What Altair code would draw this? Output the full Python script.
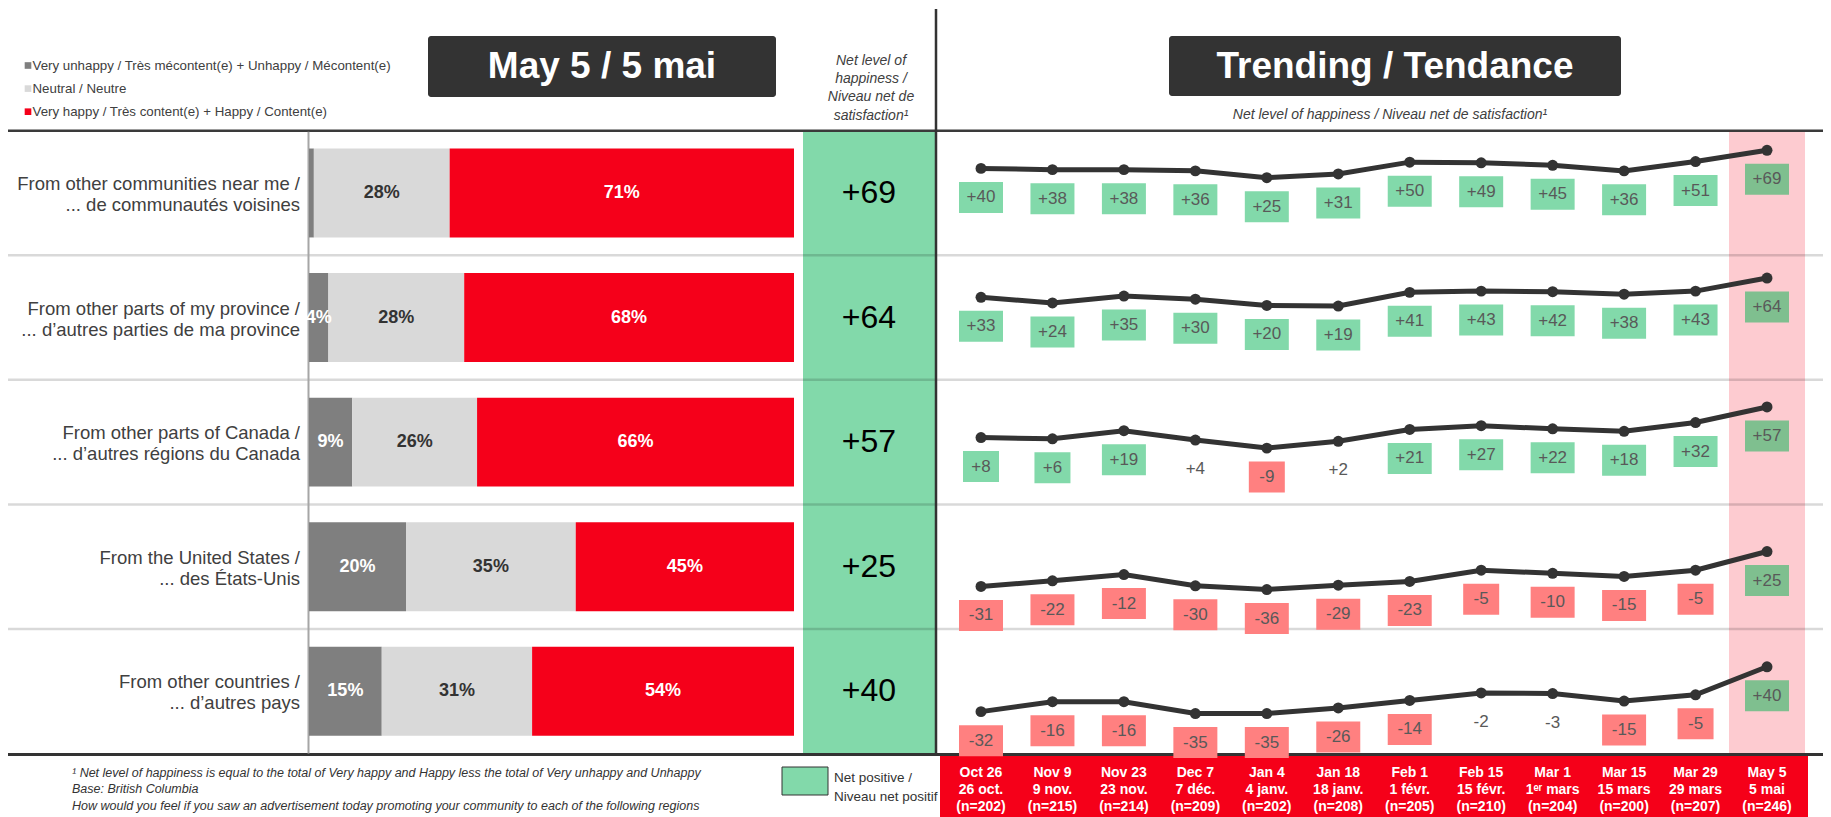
import altair as alt
import pandas as pd

FONT = "Liberation Sans, Arial, sans-serif"

# ---------------- data ----------------
cat_en = ["From other communities near me /", "From other parts of my province /",
          "From other parts of Canada /", "From the United States /", "From other countries /"]
cat_fr = ["... de communautés voisines", "... d’autres parties de ma province",
          "... d’autres régions du Canada", "... des États-Unis", "... d’autres pays"]

segments = ["Very unhappy / Très mécontent(e) + Unhappy / Mécontent(e)",
            "Neutral / Neutre",
            "Very happy / Très content(e) + Happy / Content(e)"]
seg_colors = ["#7f7f7f", "#d9d9d9", "#f5001a"]
seg_text_colors = ["#ffffff", "#333333", "#ffffff"]

unhappy = [1, 4, 9, 20, 15]
neutral = [28, 28, 26, 35, 31]
happy = [71, 68, 66, 45, 54]
net_may5 = [69, 64, 57, 25, 40]

dates_en = ["Oct 26", "Nov 9", "Nov 23", "Dec 7", "Jan 4", "Jan 18", "Feb 1", "Feb 15",
            "Mar 1", "Mar 15", "Mar 29", "May 5"]
dates_fr = ["26 oct.", "9 nov.", "23 nov.", "7 déc.", "4 janv.", "18 janv.", "1 févr.", "15 févr.",
            "1ᵉʳ mars", "15 mars", "29 mars", "5 mai"]
sample_n = [202, 215, 214, 209, 202, 208, 205, 210, 204, 200, 207, 246]

trend_communities = [40, 38, 38, 36, 25, 31, 50, 49, 45, 36, 51, 69]
trend_province = [33, 24, 35, 30, 20, 19, 41, 43, 42, 38, 43, 64]
trend_canada = [8, 6, 19, 4, -9, 2, 21, 27, 22, 18, 32, 57]
trend_us = [-31, -22, -12, -30, -36, -29, -23, -5, -10, -15, -5, 25]
trend_other = [-32, -16, -16, -35, -35, -26, -14, -2, -3, -15, -5, 40]

footnotes = ["¹ Net level of happiness is equal to the total of Very happy and Happy less the total of Very unhappy and Unhappy",
             "Base: British Columbia",
             "How would you feel if you saw an advertisement today promoting your community to each of the following regions"]

# ---------------- layout (chart pixels) ----------------
W, H = 1815, 809
TOP, BOT = 122.7, 745.5
ROW_H = (BOT - TOP) / 5
BAR_X = [301, 786]
TREND_X = [973, 1759]
TREND_Y = [123, 746]
PX_X = (TREND_X[1] - TREND_X[0]) / 11
PX_Y = (TREND_Y[1] - TREND_Y[0]) / 1000

keys = [f"r{i}" for i in range(5)]
ybar = alt.Scale(domain=keys, range=[TOP, BOT], paddingInner=0.286, paddingOuter=0.143)
xbar = alt.Scale(domain=[0, 1], range=BAR_X, nice=False, zero=False)


def tx(f):
    return alt.X(f, type="quantitative", axis=None,
                 scale=alt.Scale(domain=[0, 11], range=TREND_X, nice=False, zero=False))


def ty(f):
    return alt.Y(f, type="quantitative", axis=None,
                 scale=alt.Scale(domain=[0, 1000], range=TREND_Y, nice=False, zero=False))


def px(f):
    return alt.X(f, type="quantitative", scale=None)


def py(f):
    return alt.Y(f, type="quantitative", scale=None)


# bars table
brows = []
for i, k in enumerate(keys):
    vals = [unhappy[i], neutral[i], happy[i]]
    tot = sum(vals)
    c = 0
    for j, v in enumerate(vals):
        brows.append(dict(key=k, start=c / tot, end=(c + v) / tot, mid=(c + v / 2) / tot,
                          label=f"{v}%" if v >= 3 else "", fill=seg_colors[j], tcolor=seg_text_colors[j]))
        c += v
bar_df = pd.DataFrame(brows)

cat_df = pd.DataFrame(dict(key=keys, label=[a + "\n" + b for a, b in zip(cat_en, cat_fr)],
                           net=[f"{v:+d}" for v in net_may5]))

# trend table
series = [trend_communities, trend_province, trend_canada, trend_us, trend_other]
trows = []
LAB_OFF = 29 / PX_Y
BOX_H = 15.5 / PX_Y
for r, s in enumerate(series):
    for i, v in enumerate(s):
        lab = f"{v:+d}"
        if v >= 5:
            fill = "#7fbf8f" if i == len(s) - 1 else "#82d9aa"
        elif v <= -5:
            fill = "#ff8080"
        else:
            fill = "none"
        hw = (20 + 8 * len(lab)) / 2 / PX_X
        yv = r * 200 + 100 - v
        trows.append(dict(key=keys[r], idx=i, v=v, yv=yv, ylab=yv + LAB_OFF,
                          ylo=yv + LAB_OFF - BOX_H, yhi=yv + LAB_OFF + BOX_H,
                          xlo=i - hw, xhi=i + hw, lab=lab, fill=fill))
trend_df = pd.DataFrame(trows)

last = len(dates_en) - 1
pink_df = pd.DataFrame([dict(lo=last - 38 / PX_X, hi=last + 38 / PX_X)])
date_df = pd.DataFrame(dict(idx=list(range(len(dates_en))),
                            label=[f"{a}\n{b}\n(n={n})" for a, b, n in zip(dates_en, dates_fr, sample_n)]))

# ---------------- decorations ----------------
rect_df = pd.DataFrame([
    dict(x=795, x2=927, y=124, y2=745.5, c="#82d9aa"),
    dict(x=932, x2=1800, y=747, y2=H, c="#f50019"),
])
pink = alt.Chart(pink_df).mark_rect(color="#fdcbd0").encode(
    x=tx("lo"), x2="hi", y=alt.value(124), y2=alt.value(745))
rects = alt.Chart(rect_df).mark_rect().encode(
    x=px("x"), x2="x2", y=py("y"), y2="y2", color=alt.Color("c:N", scale=None))

hdr_df = pd.DataFrame([
    dict(x=420, x2=768, y=28, y2=89, tx=594, ty=59, t="May 5 / 5 mai"),
    dict(x=1161, x2=1613, y=28, y2=88, tx=1387, ty=58.5, t="Trending / Tendance"),
])
hdr_box = alt.Chart(hdr_df).mark_rect(color="#333333", cornerRadius=3).encode(
    x=px("x"), x2="x2", y=py("y"), y2="y2")
hdr_txt = alt.Chart(hdr_df).mark_text(font=FONT, fontSize=37, fontWeight="bold", color="#ffffff",
                                      baseline="middle").encode(x=px("tx"), y=py("ty"), text="t:N")

rule_rows = [
    dict(x=0, x2=W, y=TOP, y2=TOP, c="#3a3a3a", w=2.5, op=1),
    dict(x=0, x2=W, y=746.5, y2=746.5, c="#333333", w=3, op=1),
]
for k in range(1, 5):
    yy = TOP + k * ROW_H
    rule_rows.append(dict(x=0, x2=W, y=yy, y2=yy, c="#000000", w=2.5, op=0.15))
rule_rows += [
    dict(x=300.5, x2=300.5, y=TOP + 1, y2=BOT, c="#a6a6a6", w=2, op=1),
    dict(x=928, x2=928, y=1, y2=BOT, c="#333333", w=2.5, op=1),
]
rules = alt.Chart(pd.DataFrame(rule_rows)).mark_rule().encode(
    x=px("x"), x2="x2", y=py("y"), y2="y2", color=alt.Color("c:N", scale=None),
    strokeWidth=alt.StrokeWidth("w:Q", scale=None), opacity=alt.Opacity("op:Q", scale=None))

# ---------------- legends & texts ----------------
leg_df = pd.DataFrame(dict(seg=segments, c=seg_colors))
leg_scale = alt.Scale(type="point", domain=segments, range=[57.5, 103.7], padding=0)
leg_sq = alt.Chart(leg_df).mark_square(size=44, opacity=1).encode(
    x=alt.value(20), y=alt.Y("seg:N", axis=None, scale=leg_scale),
    color=alt.Color("c:N", scale=None))
leg_tx = alt.Chart(leg_df).mark_text(font=FONT, fontSize=13.3, align="left", baseline="middle", color="#404040").encode(
    x=alt.value(24.5), y=alt.Y("seg:N", axis=None, scale=leg_scale), text="seg:N")

ital_df = pd.DataFrame([
    dict(x=863, y=52.7, t="Net level of\nhappiness /\nNiveau net de\nsatisfaction¹"),
    dict(x=1382, y=106.5, t="Net level of happiness / Niveau net de satisfaction¹"),
])
ital = alt.Chart(ital_df).mark_text(font=FONT, fontSize=14, fontStyle="italic", color="#404040",
                                    lineBreak="\n", lineHeight=18.3, baseline="middle").encode(
    x=px("x"), y=py("y"), text="t:N")

foot_df = pd.DataFrame(dict(x=[64] * 3, y=[764.5, 780.5, 797.5], t=footnotes))
foot = alt.Chart(foot_df).mark_text(font=FONT, fontSize=12.5, fontStyle="italic", color="#333333",
                                    align="left", baseline="middle").encode(x=px("x"), y=py("y"), text="t:N")

bl_df = pd.DataFrame([dict(x=774, x2=820, y=759, y2=787)])
bl_sq = alt.Chart(bl_df).mark_rect(color="#82d9aa", stroke="#333333", strokeWidth=1).encode(
    x=px("x"), x2="x2", y=py("y"), y2="y2")
bl_tx = alt.Chart(pd.DataFrame([dict(x=826, y=770, t="Net positive /\nNiveau net positif")])).mark_text(
    font=FONT, fontSize=13.5, color="#333333", align="left", baseline="middle", lineBreak="\n", lineHeight=18.5).encode(
    x=px("x"), y=py("y"), text="t:N")

# ---------------- data marks ----------------
bars = alt.Chart(bar_df).mark_bar().encode(
    x=alt.X("start:Q", scale=xbar, axis=None), x2="end:Q",
    y=alt.Y("key:N", scale=ybar, axis=None), color=alt.Color("fill:N", scale=None))
bar_txt = alt.Chart(bar_df).mark_text(font=FONT, fontSize=18, fontWeight="bold", baseline="middle").encode(
    x=alt.X("mid:Q", scale=xbar, axis=None), y=alt.Y("key:N", scale=ybar, axis=None),
    text="label:N", color=alt.Color("tcolor:N", scale=None))
left_txt = alt.Chart(cat_df).mark_text(font=FONT, fontSize=18.5, align="right", baseline="middle",
                                       lineBreak="\n", lineHeight=21, dy=-9, color="#404040").encode(
    x=alt.value(292), y=alt.Y("key:N", scale=ybar, axis=None), text="label:N")
net_txt = alt.Chart(cat_df).mark_text(font=FONT, fontSize=32, color="#000000", baseline="middle").encode(
    x=alt.value(861), y=alt.Y("key:N", scale=ybar, axis=None), text="net:N")

line = alt.Chart(trend_df).mark_line(color="#333333", strokeWidth=5).encode(
    x=tx("idx"), y=ty("yv"), detail="key:N")
pts = alt.Chart(trend_df).mark_circle(size=120, color="#333333", opacity=1).encode(
    x=tx("idx"), y=ty("yv"))
boxes = alt.Chart(trend_df).transform_filter("datum.fill != 'none'").mark_rect().encode(
    x=tx("xlo"), x2="xhi", y=ty("ylo"), y2="yhi", color=alt.Color("fill:N", scale=None))
box_txt = alt.Chart(trend_df).mark_text(font=FONT, fontSize=17, color="#595959", baseline="middle").encode(
    x=tx("idx"), y=ty("ylab"), text="lab:N")
date_txt = alt.Chart(date_df).mark_text(font=FONT, fontSize=14, fontWeight="bold", color="#ffffff",
                                        baseline="middle", lineBreak="\n", lineHeight=16.8).encode(
    x=tx("idx"), y=alt.value(765), text="label:N")

chart = alt.layer(
    pink, rects, rules, hdr_box, hdr_txt, leg_sq, leg_tx, ital, foot, bl_sq, bl_tx,
    bars, bar_txt, left_txt, net_txt, line, pts, boxes, box_txt, date_txt,
).resolve_scale(x="independent", y="independent").properties(
    width=W, height=H, padding=0, autosize="none", background="#ffffff"
).configure_view(strokeWidth=0)

chart.save("out.html", embed_options={"renderer": "svg", "actions": False})
